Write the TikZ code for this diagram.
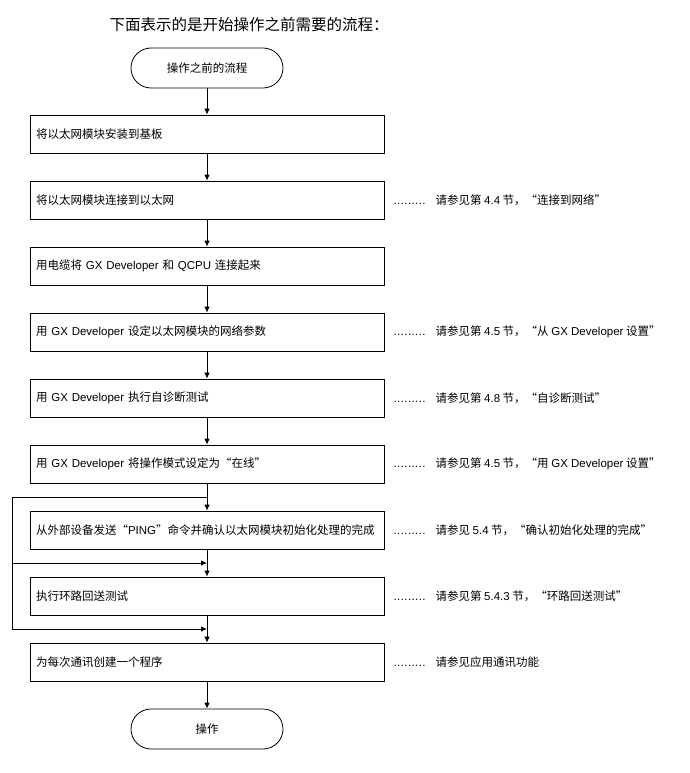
\documentclass[tikz,border=0pt]{standalone}
\usepackage{fontspec}
\setmainfont{Noto Sans CJK SC}
\newfontfamily\lat{Liberation Sans}
\usetikzlibrary{positioning, arrows.meta}

\tikzstyle{terminal} = [rectangle, draw, rounded corners=20pt, minimum width=152pt, minimum height=40pt, line width=.8pt]
\tikzstyle{stepbox} = [rectangle, draw, minimum width=354pt, minimum height=38pt, text width=342pt, align=left, inner xsep=6pt, line width=.8pt]
\tikzstyle{note} = [anchor=west, inner sep=0pt]
\tikzstyle{line} = [draw, -{Latex[length=6pt, width=5.5pt]}, line width=.8pt]

\newcommand{\dotsref}[1]{\makebox[32pt][s]{\lat.\hfil.\hfil.\hfil.\hfil.\hfil.\hfil.\hfil.\hfil.}\hspace{10pt}#1}

\begin{document}
\begin{tikzpicture}[x=1pt, y=1pt, font=\fontsize{11.5}{13}\selectfont, node distance=66pt]
    \useasboundingbox (0,0) rectangle (689,-773);
    \node (Title) at (249,-25) {\fontsize{15.5}{18}\selectfont 下面表示的是开始操作之前需要的流程：};

    \node[terminal] (Start) at (207,-68) {操作之前的流程};
    \node[stepbox, below of=Start] (Step1) {将以太网模块安装到基板};
    \node[stepbox, below of=Step1] (Step2) {将以太网模块连接到以太网};
    \node[stepbox, below of=Step2] (Step3) {用电缆将 {\lat GX Developer} 和 {\lat QCPU} 连接起来};
    \node[stepbox, below of=Step3] (Step4) {用 {\lat GX Developer} 设定以太网模块的网络参数};
    \node[stepbox, below of=Step4] (Step5) {用 {\lat GX Developer} 执行自诊断测试};
    \node[stepbox, below of=Step5] (Step6) {用 {\lat GX Developer} 将操作模式设定为“在线”};
    \node[stepbox, below of=Step6] (Step7) {从外部设备发送“{\lat PING}”命令并确认以太网模块初始化处理的完成};
    \node[stepbox, below of=Step7] (Step8) {执行环路回送测试};
    \node[stepbox, below of=Step8] (Step9) {为每次通讯创建一个程序};
    \node[terminal, below of=Step9, node distance=67pt] (Stop) {操作};

    % references on the right
    \node[note, right=9pt of Step2] (Ref2) {\dotsref{请参见第 {\lat 4.4} 节，“连接到网络”}};
    \node[note, right=9pt of Step4] (Ref4) {\dotsref{请参见第 {\lat 4.5} 节，“从 {\lat GX Developer} 设置”}};
    \node[note, right=9pt of Step5] (Ref5) {\dotsref{请参见第 {\lat 4.8} 节，“自诊断测试”}};
    \node[note, right=9pt of Step6] (Ref6) {\dotsref{请参见第 {\lat 4.5} 节，“用 {\lat GX Developer} 设置”}};
    \node[note, right=9pt of Step7] (Ref7) {\dotsref{请参见 {\lat 5.4} 节，“确认初始化处理的完成”}};
    \node[note, right=9pt of Step8] (Ref8) {\dotsref{请参见第 {\lat 5.4.3} 节，“环路回送测试”}};
    \node[note, right=9pt of Step9] (Ref9) {\dotsref{请参见应用通讯功能}};

    \path[line] (Start) -- (Step1);
    \path[line] (Step1) -- (Step2);
    \path[line] (Step2) -- (Step3);
    \path[line] (Step3) -- (Step4);
    \path[line] (Step4) -- (Step5);
    \path[line] (Step5) -- (Step6);
    \path[line] (Step6) -- (Step7);
    \path[line] (Step7) -- (Step8);
    \path[line] (Step8) -- (Step9);
    \path[line] (Step9) -- (Stop);

    % skip loop on the left
    \coordinate[below of=Step6, node distance=33pt] (Join7);
    \coordinate[below of=Step7, node distance=33pt] (Join8);
    \coordinate[below of=Step8, node distance=33pt] (Join9);
    \coordinate (LoopLeft) at (12,-497);
    \draw[line width=.8pt] (Join7) -- (LoopLeft);
    \path[line] (LoopLeft) |- (Join8);
    \path[line] (LoopLeft) |- (Join9);
\end{tikzpicture}
\end{document}
